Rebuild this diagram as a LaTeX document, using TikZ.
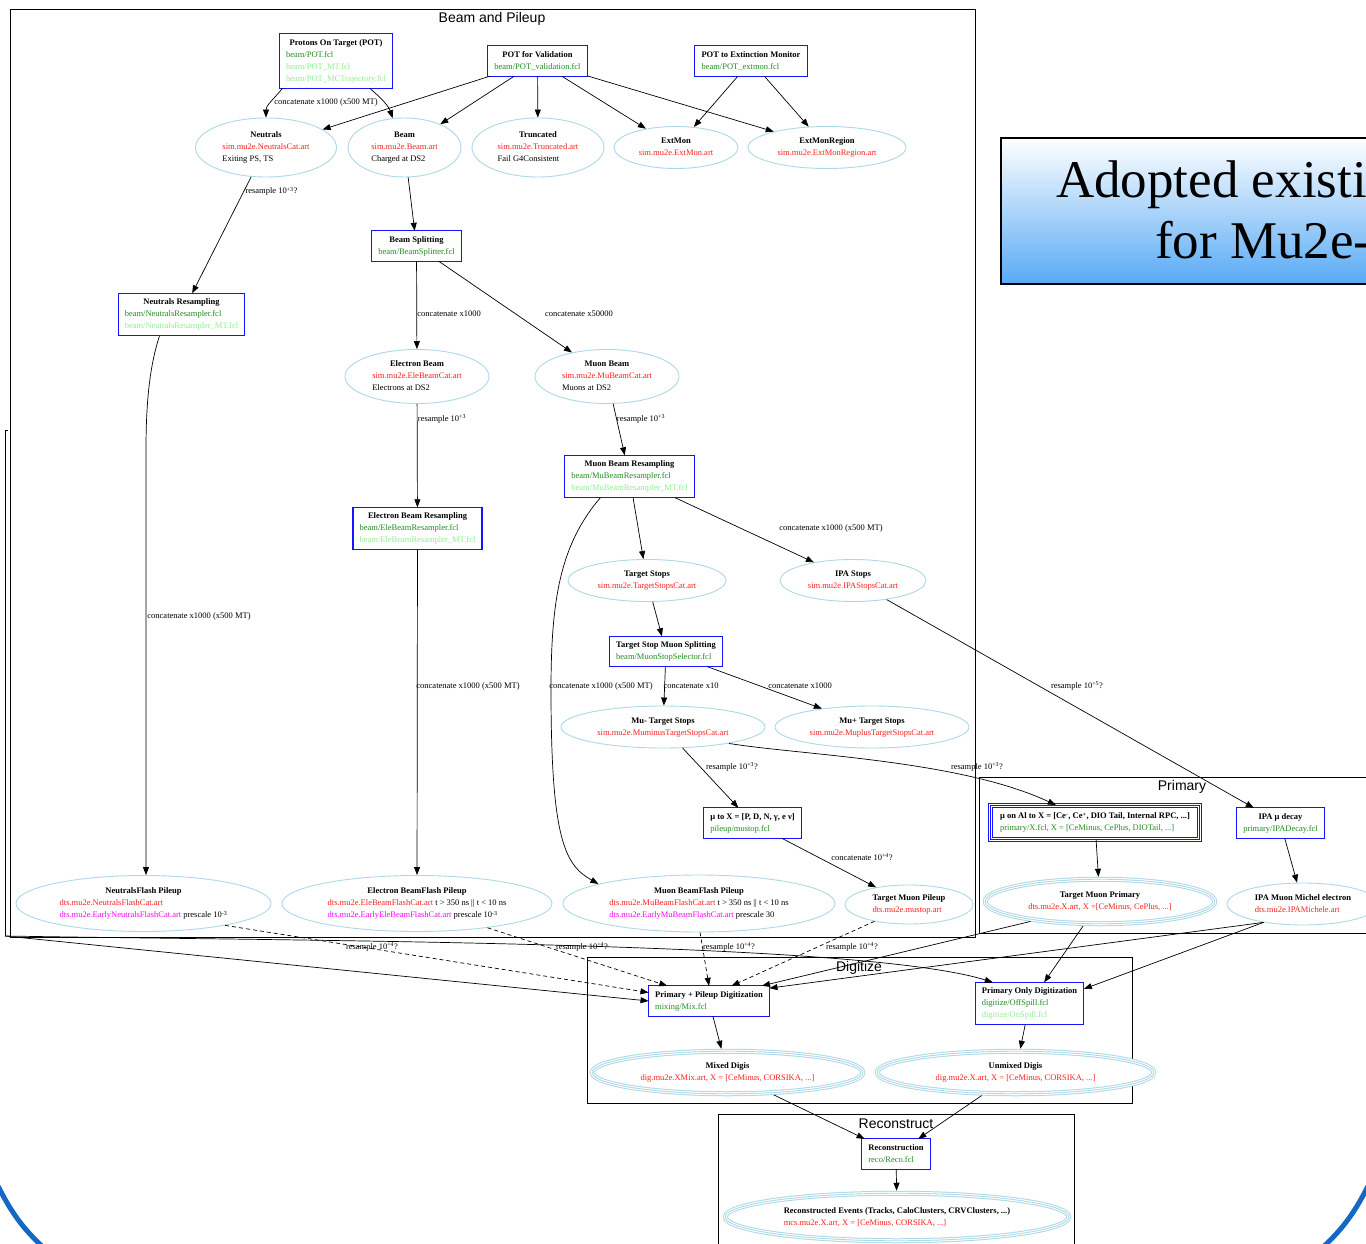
\documentclass[tikz,border=0pt]{standalone}
\usepackage{fontspec}
\setmainfont{Liberation Serif}
\setsansfont{Liberation Sans}
\usetikzlibrary{shapes.geometric, arrows.meta}

\definecolor{fclgreen}{RGB}{34,139,34}
\definecolor{mtgreen}{RGB}{144,238,144}
\definecolor{artred}{RGB}{255,30,30}
\definecolor{earlymag}{RGB}{255,0,255}
\definecolor{ellblue}{RGB}{173,216,230}
\definecolor{boxblue}{RGB}{20,20,255}
\definecolor{slideblue}{RGB}{18,104,196}
\definecolor{bannerblue}{RGB}{88,170,245}

\newcommand{\lbl}[2]{\begin{tabular}{@{}l@{}}\multicolumn{1}{@{}c@{}}{\textbf{#1}}\\ #2\end{tabular}}
\newcommand{\fcl}[1]{\textcolor{fclgreen}{#1}}
\newcommand{\fclmt}[1]{\textcolor{mtgreen}{#1}}
\newcommand{\art}[1]{\textcolor{artred}{#1}}
\newcommand{\early}[1]{\textcolor{earlymag}{#1}}
\newcommand{\up}[1]{\textsuperscript{#1}}

\tikzset{
  every node/.style={font=\fontsize{8.5}{12}\selectfont},
  procbox/.style={text=black, fill=white, inner xsep=6.5pt, inner ysep=3pt},
  boxline/.style={draw=boxblue, line width=1.2pt},
  tripleline/.style={draw=white, line width=3pt,
    preaction={draw=boxblue, line width=5pt},
    postaction={draw=boxblue, line width=1pt}},
  datanode/.style={ellipse, draw=ellblue, text=black, line width=0.9pt, fill=white, inner sep=0pt},
  finalnode/.style={datanode, draw=white, line width=3pt, fill=none, outer sep=2.5pt,
    preaction={fill=white}, preaction={draw=ellblue, line width=5pt},
    postaction={draw=ellblue, line width=0.9pt}},
  lab/.style={font=\fontsize{8.5}{10}\selectfont, inner sep=1pt},
  flow/.style={-{Stealth[length=8pt, width=6pt, inset=0pt]}, line width=0.7pt},
  pileflow/.style={flow, dash pattern=on 4pt off 3pt},
  cluster/.style={draw, line width=0.8pt},
  clustertitle/.style={font=\sffamily\fontsize{14}{16}\selectfont}
}

\begin{document}
\begin{tikzpicture}[x=1pt, y=-1pt]
  \useasboundingbox (0,0) rectangle (1366,1244);

  % Clusters
  \draw[cluster] (8,430) -- (5,430) -- (5,936);
  \draw[cluster] (10,9) rectangle (975,937);
  \node[clustertitle] (tbeam) at (492,19) {Beam and Pileup};
  \draw[cluster] (979,777) rectangle (1390,933);
  \node[clustertitle] (tprim) at (1182,787) {Primary};
  \draw[cluster] (587,957) rectangle (1132,1103);
  \node[clustertitle] (tdigi) at (859,968) {Digitize};
  \draw[cluster] (718,1114) rectangle (1074,1260);
  \node[clustertitle] (treco) at (896,1124) {Reconstruct};

  % Proton beam
  \node[procbox] (pot) at (336,61) {\lbl{Protons On Target (POT)}{\fcl{beam/POT.fcl}\\ \fclmt{beam/POT\_MT.fcl}\\ \fclmt{beam/POT\_MCTrajectory.fcl}}};
  \node[procbox] (potval) at (537.5,61) {\lbl{POT for Validation}{\fcl{beam/POT\_validation.fcl}}};
  \node[procbox] (potext) at (751,61) {\lbl{POT to Extinction Monitor}{\fcl{beam/POT\_extmon.fcl}}};

  \node[datanode, minimum width=141, minimum height=59] (neut) at (266,147.5) {\lbl{Neutrals}{\art{sim.mu2e.NeutralsCat.art}\\ Exiting PS, TS}};
  \node[datanode, minimum width=113, minimum height=59] (beam) at (404.5,147.5) {\lbl{Beam}{\art{sim.mu2e.Beam.art}\\ Charged at DS2}};
  \node[datanode, minimum width=132, minimum height=59] (trunc) at (538,147.5) {\lbl{Truncated}{\art{sim.mu2e.Truncated.art}\\ Fail G4Consistent}};
  \node[datanode, minimum width=124, minimum height=42] (extmon) at (676,147.5) {\lbl{ExtMon}{\art{sim.mu2e.ExtMon.art}}};
  \node[datanode, minimum width=158, minimum height=42] (extreg) at (827,147.5) {\lbl{ExtMonRegion}{\art{sim.mu2e.ExtMonRegion.art}}};

  % Splitting and resampling
  \node[procbox] (bsplit) at (416.5,246) {\lbl{Beam Splitting}{\fcl{beam/BeamSplitter.fcl}}};
  \node[procbox] (nres) at (181.5,314.5) {\lbl{Neutrals Resampling}{\fcl{beam/NeutralsResampler.fcl}\\ \fclmt{beam/NeutralsResampler\_MT.fcl}}};
  \node[datanode, minimum width=144, minimum height=54] (ebeam) at (417,376.5) {\lbl{Electron Beam}{\art{sim.mu2e.EleBeamCat.art}\\ Electrons at DS2}};
  \node[datanode, minimum width=144, minimum height=54] (mubeam) at (607,376.5) {\lbl{Muon Beam}{\art{sim.mu2e.MuBeamCat.art}\\ Muons at DS2}};
  \node[procbox] (eres) at (417.5,528.5) {\lbl{Electron Beam Resampling}{\fcl{beam/EleBeamResampler.fcl}\\ \fclmt{beam/EleBeamResampler\_MT.fcl}}};
  \node[procbox] (mures) at (629.5,476.5) {\lbl{Muon Beam Resampling}{\fcl{beam/MuBeamResampler.fcl}\\ \fclmt{beam/MuBeamResampler\_MT.fcl}}};
  \node[datanode, minimum width=158, minimum height=42] (tstops) at (647,580.5) {\lbl{Target Stops}{\art{sim.mu2e.TargetStopsCat.art}}};
  \node[datanode, minimum width=146, minimum height=42] (ipastops) at (853,580.5) {\lbl{IPA Stops}{\art{sim.mu2e.IPAStopsCat.art}}};
  \node[procbox] (tsms) at (666,651.5) {\lbl{Target Stop Muon Splitting}{\fcl{beam/MuonStopSelector.fcl}}};
  \node[datanode, minimum width=204, minimum height=42] (mumin) at (663,727) {\lbl{Mu- Target Stops}{\art{sim.mu2e.MuminusTargetStopsCat.art}}};
  \node[datanode, minimum width=194, minimum height=42] (muplus) at (872,727) {\lbl{Mu+ Target Stops}{\art{sim.mu2e.MuplusTargetStopsCat.art}}};
  \node[procbox] (mutox) at (752.5,823) {\lbl{μ to X = [P, D, N, γ, e ν]}{\fcl{pileup/mustop.fcl}}};

  % Pileup
  \node[datanode, minimum width=255, minimum height=56] (nflash) at (143.5,903.5) {\lbl{NeutralsFlash Pileup}{\art{dts.mu2e.NeutralsFlashCat.art}\\ \early{dts.mu2e.EarlyNeutralsFlashCat.art} prescale 10\up{-3}}};
  \node[datanode, minimum width=270, minimum height=56] (ebflash) at (417,903.5) {\lbl{Electron BeamFlash Pileup}{\art{dts.mu2e.EleBeamFlashCat.art} t > 350 ns || t < 10 ns\\ \early{dts.mu2e.EarlyEleBeamFlashCat.art} prescale 10\up{-3}}};
  \node[datanode, minimum width=272, minimum height=57] (mubflash) at (699,903.5) {\lbl{Muon BeamFlash Pileup}{\art{dts.mu2e.MuBeamFlashCat.art} t > 350 ns || t < 10 ns\\ \early{dts.mu2e.EarlyMuBeamFlashCat.art} prescale 30}};
  \node[datanode, minimum width=128, minimum height=39] (tmpile) at (909,904.5) {\lbl{Target Muon Pileup}{\art{dts.mu2e.mustop.art}}};

  % Primary
  \node[procbox, minimum width=209, minimum height=34.5] (mualx) at (1095,822.5) {\lbl{μ on Al to X = [Ce\up{-}, Ce\up{+}, DIO Tail, Internal RPC, ...]}{\fcl{primary/X.fcl, X = [CeMinus, CePlus, DIOTail, ...]}}};
  \node[procbox] (ipadec) at (1280.5,823) {\lbl{IPA μ decay}{\fcl{primary/IPADecay.fcl}}};
  \node[finalnode, minimum width=229.5, minimum height=44.5] (tmprim) at (1100,901.5) {\lbl{Target Muon Primary}{\art{dts.mu2e.X.art, X =[CeMinus, CePlus, ...]}}};
  \node[datanode, minimum width=152, minimum height=42] (ipamich) at (1303,904) {\lbl{IPA Muon Michel electron}{\art{dts.mu2e.IPAMichele.art}}};

  % Digitize
  \node[procbox] (ppd) at (709,1001) {\lbl{Primary + Pileup Digitization}{\fcl{mixing/Mix.fcl}}};
  \node[procbox] (pod) at (1029.5,1003.5) {\lbl{Primary Only Digitization}{\fcl{digitize/OffSpill.fcl}\\ \fclmt{digitize/OnSpill.fcl}}};
  \node[finalnode, minimum width=270.5, minimum height=42.5] (mixed) at (727.5,1072.5) {\lbl{Mixed Digis}{\art{dig.mu2e.XMix.art, X = [CeMinus, CORSIKA, ...]}}};
  \node[finalnode, minimum width=276.5, minimum height=42.5] (unmixed) at (1015.5,1072.5) {\lbl{Unmixed Digis}{\art{dig.mu2e.X.art, X = [CeMinus, CORSIKA, ...]}}};

  % Reconstruct
  \node[procbox] (reco) at (896,1154) {\lbl{Reconstruction}{\fcl{reco/Reco.fcl}}};
  \node[finalnode, minimum width=343.5, minimum height=47.5] (recoev) at (897,1217) {\lbl{Reconstructed Events (Tracks, CaloClusters, CRVClusters, ...)}{\art{mcs.mu2e.X.art, X = [CeMinus, CORSIKA, ...]}}};

  % Box outlines
  \foreach \n in {pot, potval, potext, bsplit, nres, eres, mures, tsms, mutox, ipadec, ppd, pod, reco}
    \draw[boxline] (\n.south west) rectangle (\n.north east);
  \draw[tripleline] (mualx.south west) rectangle (mualx.north east);

  \coordinate (lc) at (5,936);

  % Edges
  \draw[flow] (pot.207) .. controls +(-10,12) and +(0,-12) .. (neut.north);
  \draw[flow] (pot.321) .. controls +(12,10) and +(-4,-12) .. (beam.112);
  \draw[flow] (potval) -- (neut);
  \draw[flow] (potval) -- (beam);
  \draw[flow] (potval) -- (trunc);
  \draw[flow] (potval) -- (extmon);
  \draw[flow] (potval) -- (extreg);
  \draw[flow] (potext) -- (extmon);
  \draw[flow] (potext) -- (extreg);
  \draw[flow] (neut) -- (nres);
  \draw[flow] (beam) -- (bsplit);
  \draw[flow] (bsplit) -- (ebeam);
  \draw[flow] (bsplit) -- (mubeam);
  \draw[flow] (ebeam) -- (eres);
  \draw[flow] (mubeam) -- (mures);
  \draw[flow] (mures) -- (tstops);
  \draw[flow] (mures) -- (ipastops);
  \draw[flow] (mures.216) .. controls (560,545) and (551,600) .. (551,690) .. controls (551,840) and (565,865) .. (mubflash.169);
  \draw[flow] (tstops) -- (tsms);
  \draw[flow] (tsms) -- (mumin);
  \draw[flow] (tsms) -- (muplus);
  \draw[flow] (mumin) -- (mutox);
  \draw[flow] (mumin.346) .. controls (800,755) and (960,760) .. (mualx.156);
  \draw[flow] (ipastops) -- (ipadec);
  \draw[flow] (mutox) -- (tmpile);
  \draw[flow] (nres.224) .. controls (150,365) and (146,400) .. (146,450) -- (nflash.85);
  \draw[flow] (eres) -- (ebflash);

  \draw[pileflow] (nflash.345) -- (ppd.172);
  \draw[pileflow] (ebflash.341) -- (ppd.160);
  \draw[pileflow] (mubflash.272) -- (ppd.north);
  \draw[pileflow] (tmpile.206) -- (ppd.34);
  \draw[flow] (lc) -- (ppd.west);
  \draw[flow] (lc) .. controls (300,941) and (860,941) .. (pod.150);

  \draw[flow] (mualx) -- (tmprim);
  \draw[flow] (ipadec) -- (ipamich);
  \draw[flow] (tmprim.196) -- (ppd.16);
  \draw[flow] (ipamich.205) -- (ppd.12);
  \draw[flow] (tmprim) -- (pod);
  \draw[flow] (ipamich.205) -- (pod.15);
  \draw[flow] (ppd) -- (mixed);
  \draw[flow] (pod) -- (unmixed);
  \draw[flow] (mixed) -- (reco);
  \draw[flow] (unmixed) -- (reco);
  \draw[flow] (reco) -- (recoev);

  % Edge labels
  \node[lab] (l1) at (326,102) {concatenate x1000 (x500 MT)};
  \node[lab] (l2) at (271.5,191.5) {resample 10\up{+3}?};
  \node[lab] (l3) at (449,314) {concatenate x1000};
  \node[lab] (l4) at (579,314) {concatenate x50000};
  \node[lab] (l5) at (442,419) {resample 10\up{+3}};
  \node[lab] (l6) at (641,419) {resample 10\up{+3}};
  \node[lab] (l7) at (831,528) {concatenate x1000 (x500 MT)};
  \node[lab] (l8) at (199,616) {concatenate x1000 (x500 MT)};
  \node[lab] (l9) at (468,686) {concatenate x1000 (x500 MT)};
  \node[lab] (l10) at (601,686) {concatenate x1000 (x500 MT)};
  \node[lab] (l11) at (691,686) {concatenate x10};
  \node[lab] (l12) at (800,686) {concatenate x1000};
  \node[lab] (l13) at (1077,686) {resample 10\up{+5}?};
  \node[lab] (l14) at (732,767) {resample 10\up{+3}?};
  \node[lab] (l15) at (977,767) {resample 10\up{+3}?};
  \node[lab] (l16) at (862,857) {concatenate 10\up{+4}?};
  \node[lab] (l17) at (372,947) {resample 10\up{+4}?};
  \node[lab] (l18) at (582,947) {resample 10\up{+4}?};
  \node[lab] (l19) at (729,947) {resample 10\up{+4}?};
  \node[lab] (l20) at (852,947) {resample 10\up{+4}?};

  % Slide banner and frame
  \node[draw, line width=2pt, top color=white, bottom color=bannerblue, minimum width=390, minimum height=146, anchor=north west] (banner) at (1000,137) {};
  \node[font=\fontsize{53}{60}\selectfont, anchor=base west, inner sep=0pt] (adopt1) at (1056,197) {Adopted existi};
  \node[font=\fontsize{53}{60}\selectfont, anchor=base west, inner sep=0pt] (adopt2) at (1155,258) {for Mu2e-};
  \draw[slideblue, line width=5pt] (-2,1186) .. controls (10,1210) and (22,1228) .. (44,1248);
  \draw[slideblue, line width=5pt] (1368,1186) .. controls (1356,1210) and (1344,1228) .. (1322,1248);
\end{tikzpicture}
\end{document}
